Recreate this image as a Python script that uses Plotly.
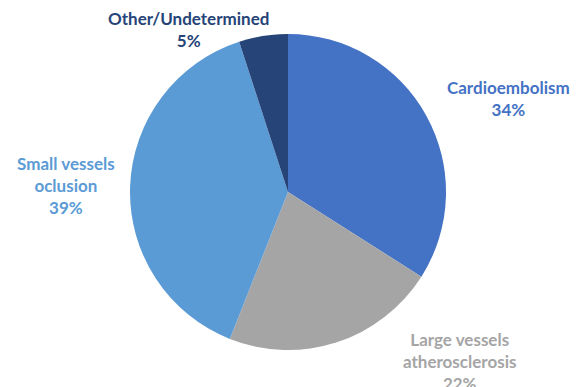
import plotly.graph_objects as go

categories = ["Cardioembolism", "Large vessels atherosclerosis", "Small vessels oclusion", "Other/Undetermined"]
values = [34, 22, 39, 5]
label_lines = [["Cardioembolism"], ["Large vessels", "atherosclerosis"], ["Small vessels", "oclusion"], ["Other/Undetermined"]]
colors = ["#4472C4", "#A5A5A5", "#5B9BD5", "#264478"]

W, H = 581, 387
FS = 17
# label centre positions in pixels (x, y of first line)
label_pos = [(508, 87), (460, 339), (66, 163), (188, 18)]

fig = go.Figure(go.Pie(
    labels=categories, values=values, sort=False, direction="clockwise", rotation=0,
    marker=dict(colors=colors, line=dict(width=0)), textinfo="none", hoverinfo="label+percent",
    domain=dict(x=[(288 - 158) / W, (288 + 158) / W], y=[1 - 350 / H, 1 - 34 / H]),
    showlegend=False,
))

total = sum(values)
anns = []
for lines, v, c, (px, py) in zip(label_lines, values, colors, label_pos):
    all_lines = lines + [f"{round(100 * v / total)}%"]
    text = "<b>" + "</b><br><b>".join(all_lines) + "</b>"
    anns.append(dict(x=px / W, y=1 - py / H, xref="paper", yref="paper", text=text, showarrow=False,
                     xanchor="center", yanchor="middle", yshift=-(len(all_lines) - 1) * FS * 1.3 / 2,
                     align="center", font=dict(family="Lato", size=FS, color=c)))

fig.update_layout(width=W, height=H, margin=dict(l=0, r=0, t=0, b=0),
                  paper_bgcolor="white", plot_bgcolor="white", annotations=anns)
fig.write_html("out.html")
